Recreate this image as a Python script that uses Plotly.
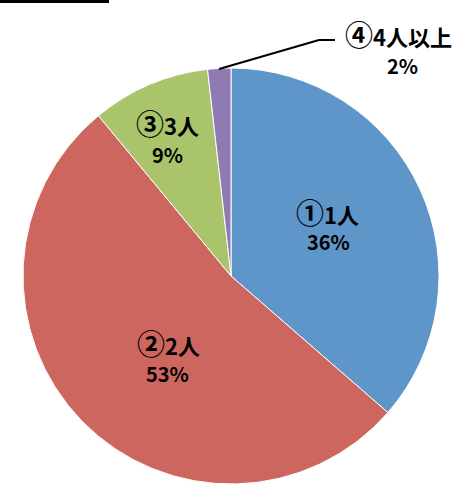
import plotly.graph_objects as go

W, H = 473, 487

circled = ["①", "②", "③", "④"]
categories = ["1人", "2人", "3人", "4人以上"]
values = [36.4, 52.6, 9.2, 1.8]
pct_labels = ["36%", "53%", "9%", "2%"]
colors = ["#5F96C9", "#CD665E", "#A9C46A", "#8F7BB2"]

# label centre positions in pixels (name line, percent line)
label_pos = [((327, 212), (328, 242)),
             ((168, 343), (167, 373)),
             ((167, 123), (167, 154)),
             ((398, 34), (402, 65))]


def px(x, y):
    return x / W, 1 - y / H


fig = go.Figure(go.Pie(
    labels=[c + n for c, n in zip(circled, categories)],
    values=values,
    sort=False,
    direction="clockwise",
    rotation=0,
    marker=dict(colors=colors, line=dict(color="white", width=1)),
    textinfo="none",
    hoverinfo="label+percent",
    domain=dict(x=[22 / W, 440 / W], y=[1 - 484 / H, 1 - 68 / H]),
    showlegend=False,
))

name_font = dict(family="Noto Sans CJK JP, sans-serif", size=22, color="black")
pct_font = dict(family="Noto Sans CJK JP, sans-serif", size=20, color="black")
anns = []
for c, cat, pct, (p1, p2) in zip(circled, categories, pct_labels, label_pos):
    x1, y1 = px(*p1)
    x2, y2 = px(*p2)
    txt = "<b><span style='font-size:28px'>%s</span>%s</b>" % (c, cat)
    anns.append(dict(x=x1, y=y1, xref="paper", yref="paper", text=txt,
                     showarrow=False, font=name_font, xanchor="center", yanchor="middle"))
    anns.append(dict(x=x2, y=y2, xref="paper", yref="paper", text="<b>%s</b>" % pct,
                     showarrow=False, font=pct_font, xanchor="center", yanchor="middle"))

shapes = []
# leader line for the small slice
pts = [(219, 69), (319, 40), (335, 40)]
for (ax, ay), (bx, by) in zip(pts[:-1], pts[1:]):
    x0, y0 = px(ax, ay)
    x1, y1 = px(bx, by)
    shapes.append(dict(type="line", xref="paper", yref="paper", x0=x0, y0=y0, x1=x1, y1=y1,
                       line=dict(color="black", width=2)))
# bottom edge of a box at top-left
x0, y0 = px(0, 1.5)
x1, y1 = px(109, 1.5)
shapes.append(dict(type="line", xref="paper", yref="paper", x0=x0, y0=y0, x1=x1, y1=y1,
                   line=dict(color="black", width=3)))

fig.update_layout(
    width=W, height=H,
    margin=dict(l=0, r=0, t=0, b=0),
    paper_bgcolor="white",
    plot_bgcolor="white",
    annotations=anns,
    shapes=shapes,
)

fig.write_html("out.html", config={"displayModeBar": False},
               post_script="document.body.style.margin='0';document.body.style.padding='0';")
